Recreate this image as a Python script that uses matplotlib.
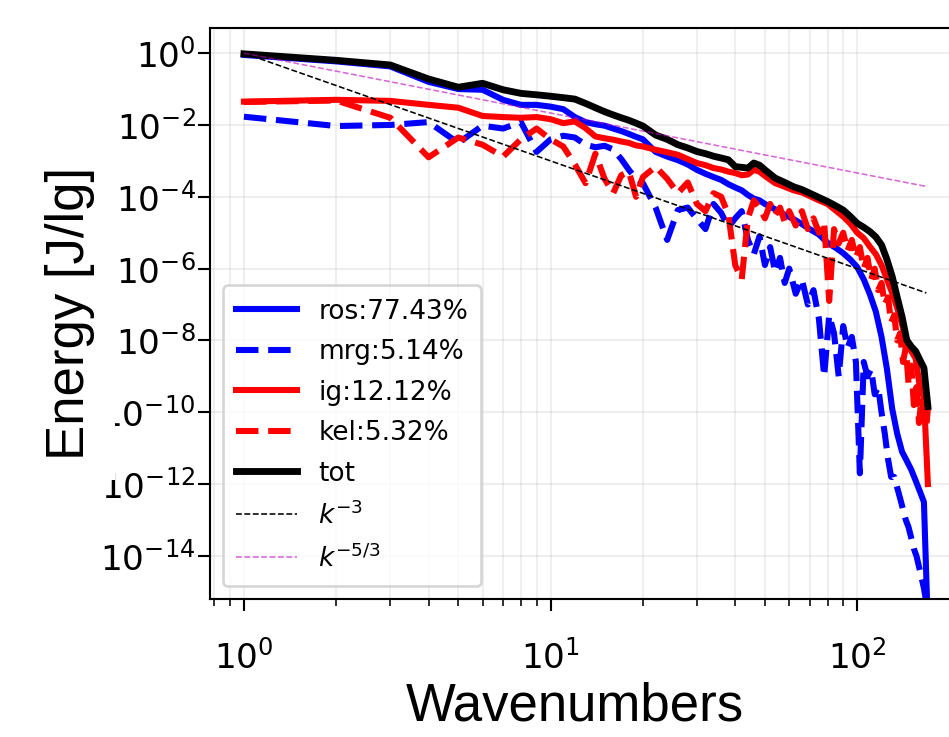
import numpy as np
import matplotlib.pyplot as plt

# wavenumbers used for the smoother curves
k_coarse = [1, 2, 3, 4, 5, 6, 7, 8, 9, 10,
            11, 12, 13, 14, 15, 16, 17, 18, 19, 20,
            22, 24, 26, 28, 30, 32, 34, 36, 38, 40,
            42, 44, 46, 48, 50, 54, 58, 62, 66, 70,
            75, 80, 85, 90, 95, 100, 105, 110, 115, 120,
            125, 130, 135, 140, 145, 150, 155, 160, 165, 170]

# log10 of energy
ros_log = [-0.05, -0.23, -0.37, -0.8, -1.0, -1.02, -1.3, -1.44, -1.44, -1.49,
           -1.56, -1.78, -1.92, -1.98, -2.02, -2.1, -2.17, -2.25, -2.33, -2.4,
           -2.75, -2.88, -2.98, -3.1, -3.25, -3.36, -3.45, -3.53, -3.65, -3.74,
           -3.82, -3.95, -4.05, -4.1, -4.2, -4.35, -4.5, -4.62, -4.76, -4.9,
           -5.05, -5.28, -5.42, -5.57, -5.75, -5.96, -6.3, -6.72, -7.2, -7.9,
           -8.8, -9.9, -10.6, -11.1, -11.35, -11.6, -11.9, -12.2, -12.5, -16.0]

ig_log = [-1.35, -1.3, -1.33, -1.44, -1.52, -1.75, -1.78, -1.8, -1.78, -1.84,
          -1.95, -1.9, -2.09, -2.32, -2.37, -2.41, -2.46, -2.5, -2.57, -2.6,
          -2.69, -2.76, -2.83, -2.95, -3.06, -3.12, -3.2, -3.24, -3.3, -3.34,
          -3.4, -3.38, -3.25, -3.3, -3.42, -3.62, -3.72, -3.82, -3.88, -3.98,
          -4.1, -4.2, -4.38, -4.55, -4.75, -5.0, -5.15, -5.39, -5.6, -5.9,
          -6.3, -6.68, -7.1, -7.55, -8.1, -8.3, -8.5, -9.3, -9.6, -12.0]

tot_log = [-0.02, -0.2, -0.33, -0.72, -0.95, -0.84, -1.02, -1.12, -1.16, -1.2,
           -1.24, -1.28, -1.4, -1.52, -1.63, -1.72, -1.8, -1.87, -1.95, -2.03,
           -2.28, -2.4, -2.55, -2.64, -2.74, -2.8, -2.87, -2.92, -2.97, -3.16,
           -3.18, -3.2, -3.06, -3.12, -3.25, -3.48, -3.6, -3.72, -3.8, -3.9,
           -4.02, -4.13, -4.25, -4.37, -4.55, -4.74, -4.85, -4.97, -5.12, -5.34,
           -5.75, -6.22, -6.8, -7.34, -7.99, -8.17, -8.3, -8.54, -8.77, -9.84]

# denser wavenumbers for the jagged dashed curves
k_fine = [1, 2, 3, 4, 5, 6, 7, 8, 9, 10,
          11, 12, 13, 14, 15, 16, 17, 18, 19, 20,
          22, 24, 26, 28, 30, 32, 34, 36, 38, 40,
          42, 44, 46, 48, 50, 52, 54, 56, 58, 60,
          63, 66, 69, 72, 75, 78, 81, 84, 87, 90,
          93, 96, 99, 102, 105, 108, 111, 114, 117, 120,
          123, 126, 129, 132, 135, 138, 141, 144, 147, 150,
          153, 156, 159, 162, 165, 168, 170]

mrg_log = [-1.77, -2.03, -2.0, -1.92, -2.5, -2.02, -2.1, -1.92, -2.75, -2.4,
           -2.3, -2.35, -2.55, -2.62, -2.58, -2.68, -2.95, -3.25, -3.5, -3.62,
           -4.3, -5.2, -4.37, -4.3, -4.62, -4.9, -4.2, -4.45, -4.85, -4.6,
           -4.4, -5.2, -5.6, -5.1, -5.9, -5.4, -6.1, -5.7, -6.4, -6.0,
           -6.7, -6.3, -7.0, -6.6, -7.4, -9.0, -7.3, -7.8, -9.0, -7.6,
           -8.2, -7.9, -8.6, -11.7, -8.6, -9.0, -8.8, -9.5, -9.3, -10.0,
           -10.6, -11.3, -11.8, -11.8, -12.1, -12.4, -12.7, -13.0, -13.2, -13.5,
           -13.8, -14.0, -14.3, -14.6, -14.9, -15.3, -16.0]

kel_log = [-1.36, -1.32, -1.8, -2.9, -2.35, -2.55, -2.88, -2.4, -2.1, -2.4,
           -2.6, -3.1, -3.62, -2.8, -3.5, -3.9, -3.4, -3.3, -4.0, -3.45,
           -3.16, -3.5, -3.9, -3.6, -4.2, -4.4, -3.9, -4.0, -4.5, -5.9,
           -6.3, -4.6, -4.1, -4.3, -4.6, -4.2, -4.5, -4.3, -4.7, -4.4,
           -4.8, -4.4, -4.9, -4.6, -5.0, -4.7, -6.9, -4.9, -5.3, -5.0,
           -5.5, -5.2, -5.7, -5.4, -6.0, -5.7, -6.3, -6.0, -6.6, -6.4,
           -7.0, -6.8, -7.5, -7.3, -8.0, -7.8, -8.6, -8.2, -9.2, -8.7,
           -9.8, -9.3, -10.3, -9.6, -9.9, -10.4, -9.9]

# reference slopes (end points)
k_ref = [1, 168]
ref_k3 = [1.0, 2.1e-7]
ref_k53 = [1.0, 1.94e-4]

labels = ['ros:77.43%', 'mrg:5.14%', 'ig:12.12%', 'kel:5.32%', 'tot',
          r'$k^{-3}$', r'$k^{-5/3}$']

fig = plt.figure(figsize=(949 / 190, 737 / 190), dpi=190)
# axes run past the right edge of the picture, like the cropped original
ax = fig.add_axes([210 / 949, 138 / 737, 752 / 949, 571 / 737])

lw = 2.3
ax.loglog(k_coarse, 10 ** np.array(ros_log), color='b', lw=lw, label=labels[0])
ax.loglog(k_fine, 10 ** np.array(mrg_log), color='b', ls='--', lw=lw, label=labels[1])
ax.loglog(k_coarse, 10 ** np.array(ig_log), color='r', lw=lw, label=labels[2])
ax.loglog(k_fine, 10 ** np.array(kel_log), color='r', ls='--', lw=lw, label=labels[3])
ax.loglog(k_coarse, 10 ** np.array(tot_log), color='k', lw=lw + 0.3, label=labels[4])
ax.loglog(k_ref, ref_k3, color='k', ls='--', lw=0.6, label=labels[5])
ax.loglog(k_ref, ref_k53, color='m', ls='--', lw=0.6, alpha=0.6, label=labels[6])

ax.set_xlim(0.775, 219.6)
ax.set_ylim(10 ** -15.2, 10 ** 0.7)

ax.grid(True, which='major', alpha=0.2)
ax.xaxis.grid(True, which='minor', alpha=0.2)
ax.yaxis.set_minor_locator(plt.NullLocator())
ax.tick_params(labelsize=13)
ax.tick_params(which='major', length=4.5)
ax.tick_params(which='minor', length=2.5)
ax.tick_params(axis='x', pad=11)
ax.tick_params(axis='y', pad=1)

ax.set_xlabel('Wavenumbers', family='Liberation Sans', fontsize=20, va='top')
ax.xaxis.set_label_coords(0.485, -0.145)
ax.set_ylabel('Energy [J/lg]', family='Liberation Sans', fontsize=20,
              bbox=dict(facecolor='white', edgecolor='none', boxstyle='square,pad=0.38'))
ax.yaxis.set_label_coords(-0.153, 0.5)

ax.legend(loc='lower left', fontsize=10, handlelength=2.3, labelspacing=0.55,
          borderpad=0.5)

fig.savefig('out.png', dpi=190)
